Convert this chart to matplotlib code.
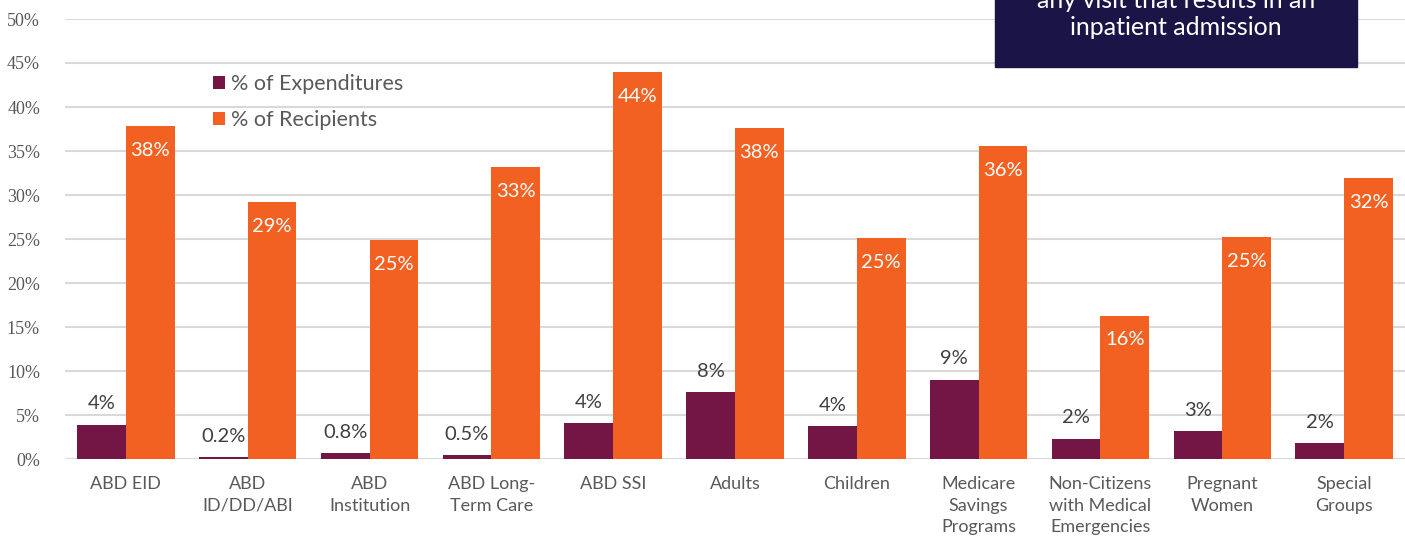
import matplotlib.pyplot as plt
from matplotlib.patches import Rectangle
import numpy as np

categories = ['ABD EID', 'ABD\nID/DD/ABI', 'ABD\nInstitution', 'ABD Long-\nTerm Care', 'ABD SSI',
              'Adults', 'Children', 'Medicare\nSavings\nPrograms', 'Non-Citizens\nwith Medical\nEmergencies',
              'Pregnant\nWomen', 'Special\nGroups']
expenditures = [3.9, 0.2, 0.7, 0.45, 4.1, 7.6, 3.7, 9.0, 2.3, 3.2, 1.8]
recipients = [37.8, 29.2, 24.9, 33.2, 44.0, 37.6, 25.1, 35.6, 16.3, 25.2, 31.9]
exp_labels = ['4%', '0.2%', '0.8%', '0.5%', '4%', '8%', '4%', '9%', '2%', '3%', '2%']
rec_labels = ['38%', '29%', '25%', '33%', '44%', '38%', '25%', '36%', '16%', '25%', '32%']

purple = '#731646'
orange = '#F26122'
gray = '#595959'
navy = '#1B1446'

fig = plt.figure(figsize=(14.05, 5.38), dpi=100)
ax = fig.add_axes([65 / 1405, 79 / 538, 1340 / 1405, 440 / 538])

x = np.arange(len(categories))
w = 0.4
ax.bar(x - w / 2, expenditures, w, color=purple, label='% of Expenditures', zorder=3)
ax.bar(x + w / 2, recipients, w, color=orange, label='% of Recipients', zorder=3)

# labels: expenditures above the bar, recipients inside the top
for xi, v, t in zip(x, expenditures, exp_labels):
    ax.text(xi - w / 2, v + 1.4, t, ha='center', va='bottom', fontsize=14.5,
            color='#404040', family='Lato')
for xi, v, t in zip(x, recipients, rec_labels):
    ax.text(xi + w / 2, v - 1.8, t, ha='center', va='top', fontsize=14.5,
            color='white', family='Lato')

ax.set_xlim(-0.5, 10.5)
ax.set_ylim(0, 50)
ax.set_yticks(range(0, 51, 5))
ax.set_yticklabels([f'{v}%' for v in range(0, 51, 5)], family='Liberation Serif',
                   fontsize=13, color=gray)
ax.set_xticks(x)
ax.set_xticklabels(categories, family='Lato', fontsize=13, color=gray, linespacing=1.45)
ax.tick_params(length=0)
ax.tick_params(axis='x', pad=12)
ax.tick_params(axis='y', pad=18)
ax.yaxis.grid(True, color='#D9D9D9', linewidth=1.5, zorder=0)
for s in ax.spines.values():
    s.set_visible(False)

leg = ax.legend(loc='upper left', bbox_to_anchor=(0.104, 0.894), frameon=False,
                prop={'family': 'Lato', 'size': 15.5}, handlelength=0.55, handleheight=0.55,
                handletextpad=0.3, labelspacing=0.72, borderaxespad=0)
for t in leg.get_texts():
    t.set_color(gray)

# callout box at the top right, cut by the figure edge
box = Rectangle((995 / 1405, (538 - 67) / 538), 362 / 1405, 100 / 538,
                transform=fig.transFigure, color=navy, zorder=5)
fig.patches.append(box)
fig.text(1176 / 1405, (538 - 14) / 538, 'any visit that results in an\ninpatient admission',
         ha='center', va='center', color='white', fontsize=18, family='Lato',
         linespacing=1.2, zorder=6)

plt.savefig('out.png', dpi=100)
